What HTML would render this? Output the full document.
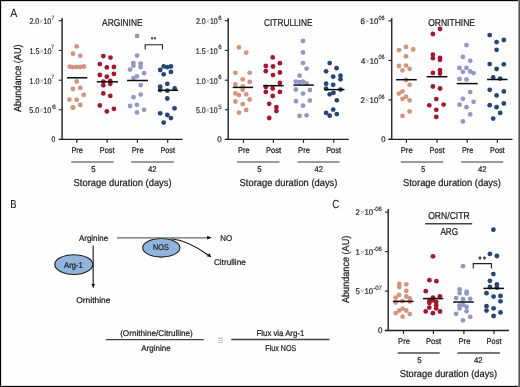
<!DOCTYPE html>
<html><head><meta charset="utf-8"><style>
html,body{margin:0;padding:0;background:#fff;}
body{width:520px;height:387px;overflow:hidden;}
svg{display:block;font-family:"Liberation Sans", sans-serif;will-change:transform;text-rendering:geometricPrecision;}
</style></head><body>
<svg width="520" height="387" viewBox="0 0 520 387">
<rect x="0" y="0" width="520" height="387" fill="#fefefe"/>
<line x1="62.10" y1="18.00" x2="62.10" y2="140.00" stroke="#2e2e2e" stroke-width="1.5"/>
<line x1="58.80" y1="139.40" x2="182.60" y2="139.40" stroke="#1e1e1e" stroke-width="1.4"/>
<line x1="58.80" y1="20.70" x2="62.10" y2="20.70" stroke="#222" stroke-width="1.1"/>
<line x1="58.80" y1="50.40" x2="62.10" y2="50.40" stroke="#222" stroke-width="1.1"/>
<line x1="58.80" y1="80.20" x2="62.10" y2="80.20" stroke="#222" stroke-width="1.1"/>
<line x1="58.80" y1="109.80" x2="62.10" y2="109.80" stroke="#222" stroke-width="1.1"/>
<line x1="58.80" y1="139.40" x2="62.10" y2="139.40" stroke="#222" stroke-width="1.1"/>
<line x1="76.80" y1="139.40" x2="76.80" y2="142.80" stroke="#1a1a1a" stroke-width="1.15"/>
<line x1="107.10" y1="139.40" x2="107.10" y2="142.80" stroke="#1a1a1a" stroke-width="1.15"/>
<line x1="137.40" y1="139.40" x2="137.40" y2="142.80" stroke="#1a1a1a" stroke-width="1.15"/>
<line x1="167.70" y1="139.40" x2="167.70" y2="142.80" stroke="#1a1a1a" stroke-width="1.15"/>
<text x="29.38" y="24.0" font-size="8.2" fill="#2a2a2a" stroke="#2a2a2a" stroke-width="0.22" textLength="21.90" lengthAdjust="spacingAndGlyphs">2.0<tspan fill="#a8a8a8" stroke="none">×</tspan>10</text>
<text x="51.40" y="19.7" font-size="6.2" fill="#2a2a2a" stroke="#2a2a2a" stroke-width="0.15" textLength="2.79" lengthAdjust="spacingAndGlyphs">7</text>
<text x="29.43" y="53.7" font-size="8.2" fill="#2a2a2a" stroke="#2a2a2a" stroke-width="0.22" textLength="22.12" lengthAdjust="spacingAndGlyphs">1.5<tspan fill="#a8a8a8" stroke="none">×</tspan>10</text>
<text x="51.16" y="49.4" font-size="6.2" fill="#2a2a2a" stroke="#2a2a2a" stroke-width="0.15" textLength="2.83" lengthAdjust="spacingAndGlyphs">7</text>
<text x="29.45" y="83.5" font-size="8.2" fill="#2a2a2a" stroke="#2a2a2a" stroke-width="0.22" textLength="22.08" lengthAdjust="spacingAndGlyphs">1.0<tspan fill="#a8a8a8" stroke="none">×</tspan>10</text>
<text x="51.16" y="79.2" font-size="6.2" fill="#2a2a2a" stroke="#2a2a2a" stroke-width="0.15" textLength="2.83" lengthAdjust="spacingAndGlyphs">7</text>
<text x="29.36" y="113.1" font-size="8.2" fill="#2a2a2a" stroke="#2a2a2a" stroke-width="0.22" textLength="21.83" lengthAdjust="spacingAndGlyphs">5.0<tspan fill="#a8a8a8" stroke="none">×</tspan>10</text>
<text x="52.00" y="108.8" font-size="6.2" fill="#2a2a2a" stroke="#2a2a2a" stroke-width="0.15" textLength="3.90" lengthAdjust="spacingAndGlyphs">6</text>
<text x="51.43" y="142.1" font-size="8.2" fill="#2a2a2a" stroke="#2a2a2a" stroke-width="0.22" textLength="3.69" lengthAdjust="spacingAndGlyphs">0</text>
<text x="102.07" y="25.8" font-size="10" fill="#1a1a1a" stroke="#1a1a1a" stroke-width="0.22" textLength="40.54" lengthAdjust="spacingAndGlyphs">ARGININE</text>
<circle cx="76.7" cy="46.4" r="2.4" fill="#d2937f"/>
<circle cx="73.0" cy="53.7" r="2.4" fill="#d2937f"/>
<circle cx="80.2" cy="55.8" r="2.4" fill="#d2937f"/>
<circle cx="69.8" cy="66.7" r="2.4" fill="#d2937f"/>
<circle cx="72.9" cy="67.2" r="2.4" fill="#d2937f"/>
<circle cx="76.6" cy="66.9" r="2.4" fill="#d2937f"/>
<circle cx="80.1" cy="67.0" r="2.4" fill="#d2937f"/>
<circle cx="83.8" cy="66.5" r="2.4" fill="#d2937f"/>
<circle cx="76.7" cy="81.5" r="2.4" fill="#d2937f"/>
<circle cx="80.2" cy="87.9" r="2.4" fill="#d2937f"/>
<circle cx="73.0" cy="89.0" r="2.4" fill="#d2937f"/>
<circle cx="83.7" cy="94.8" r="2.4" fill="#d2937f"/>
<circle cx="69.4" cy="99.6" r="2.4" fill="#d2937f"/>
<circle cx="76.7" cy="99.8" r="2.4" fill="#d2937f"/>
<circle cx="80.2" cy="105.0" r="2.4" fill="#d2937f"/>
<circle cx="73.0" cy="107.6" r="2.4" fill="#d2937f"/>
<circle cx="72.9" cy="107.5" r="2.4" fill="#d2937f"/>
<circle cx="103.3" cy="56.1" r="2.4" fill="#a2192f"/>
<circle cx="110.5" cy="57.6" r="2.4" fill="#a2192f"/>
<circle cx="99.8" cy="64.1" r="2.4" fill="#a2192f"/>
<circle cx="106.8" cy="67.4" r="2.4" fill="#a2192f"/>
<circle cx="113.9" cy="67.0" r="2.4" fill="#a2192f"/>
<circle cx="99.8" cy="75.0" r="2.4" fill="#a2192f"/>
<circle cx="106.8" cy="76.7" r="2.4" fill="#a2192f"/>
<circle cx="113.9" cy="73.9" r="2.4" fill="#a2192f"/>
<circle cx="103.3" cy="81.6" r="2.4" fill="#a2192f"/>
<circle cx="110.3" cy="80.9" r="2.4" fill="#a2192f"/>
<circle cx="103.3" cy="85.3" r="2.4" fill="#a2192f"/>
<circle cx="110.3" cy="83.8" r="2.4" fill="#a2192f"/>
<circle cx="103.3" cy="93.4" r="2.4" fill="#a2192f"/>
<circle cx="110.3" cy="95.9" r="2.4" fill="#a2192f"/>
<circle cx="99.8" cy="105.5" r="2.4" fill="#a2192f"/>
<circle cx="106.8" cy="111.4" r="2.4" fill="#a2192f"/>
<circle cx="113.9" cy="108.8" r="2.4" fill="#a2192f"/>
<circle cx="137.1" cy="35.9" r="2.4" fill="#9297c4"/>
<circle cx="137.1" cy="55.6" r="2.4" fill="#9297c4"/>
<circle cx="133.4" cy="63.1" r="2.4" fill="#9297c4"/>
<circle cx="133.4" cy="65.7" r="2.4" fill="#9297c4"/>
<circle cx="140.6" cy="63.6" r="2.4" fill="#9297c4"/>
<circle cx="140.6" cy="67.0" r="2.4" fill="#9297c4"/>
<circle cx="130.0" cy="69.6" r="2.4" fill="#9297c4"/>
<circle cx="144.1" cy="73.2" r="2.4" fill="#9297c4"/>
<circle cx="136.9" cy="76.3" r="2.4" fill="#9297c4"/>
<circle cx="133.5" cy="78.1" r="2.4" fill="#9297c4"/>
<circle cx="140.7" cy="85.1" r="2.4" fill="#9297c4"/>
<circle cx="140.7" cy="94.6" r="2.4" fill="#9297c4"/>
<circle cx="133.5" cy="97.2" r="2.4" fill="#9297c4"/>
<circle cx="130.1" cy="106.0" r="2.4" fill="#9297c4"/>
<circle cx="136.9" cy="104.8" r="2.4" fill="#9297c4"/>
<circle cx="144.1" cy="109.8" r="2.4" fill="#9297c4"/>
<circle cx="136.9" cy="112.4" r="2.4" fill="#9297c4"/>
<circle cx="163.7" cy="66.4" r="2.4" fill="#284575"/>
<circle cx="167.3" cy="67.2" r="2.4" fill="#284575"/>
<circle cx="170.9" cy="66.4" r="2.4" fill="#284575"/>
<circle cx="160.2" cy="70.0" r="2.4" fill="#284575"/>
<circle cx="163.7" cy="74.3" r="2.4" fill="#284575"/>
<circle cx="170.9" cy="71.9" r="2.4" fill="#284575"/>
<circle cx="167.3" cy="83.8" r="2.4" fill="#284575"/>
<circle cx="160.2" cy="86.7" r="2.4" fill="#284575"/>
<circle cx="160.2" cy="90.0" r="2.4" fill="#284575"/>
<circle cx="167.3" cy="90.7" r="2.4" fill="#284575"/>
<circle cx="174.7" cy="88.4" r="2.4" fill="#284575"/>
<circle cx="167.3" cy="98.5" r="2.4" fill="#284575"/>
<circle cx="174.5" cy="108.3" r="2.4" fill="#284575"/>
<circle cx="160.2" cy="113.3" r="2.4" fill="#284575"/>
<circle cx="167.3" cy="115.0" r="2.4" fill="#284575"/>
<circle cx="170.9" cy="118.1" r="2.4" fill="#284575"/>
<circle cx="163.7" cy="122.6" r="2.4" fill="#284575"/>
<line x1="67.00" y1="77.80" x2="87.30" y2="77.80" stroke="#0a0a0a" stroke-width="1.5"/>
<line x1="96.80" y1="81.80" x2="118.00" y2="81.80" stroke="#0a0a0a" stroke-width="1.5"/>
<line x1="127.10" y1="80.50" x2="148.00" y2="80.50" stroke="#0a0a0a" stroke-width="1.5"/>
<line x1="157.80" y1="90.30" x2="178.00" y2="90.30" stroke="#0a0a0a" stroke-width="1.5"/>
<text x="71.41" y="153.0" font-size="8.3" fill="#1a1a1a" stroke="#1a1a1a" stroke-width="0.22" textLength="11.55" lengthAdjust="spacingAndGlyphs">Pre</text>
<text x="99.85" y="153.0" font-size="8.3" fill="#1a1a1a" stroke="#1a1a1a" stroke-width="0.22" textLength="14.60" lengthAdjust="spacingAndGlyphs">Post</text>
<text x="131.67" y="153.0" font-size="8.3" fill="#1a1a1a" stroke="#1a1a1a" stroke-width="0.22" textLength="12.02" lengthAdjust="spacingAndGlyphs">Pre</text>
<text x="160.44" y="153.0" font-size="8.3" fill="#1a1a1a" stroke="#1a1a1a" stroke-width="0.22" textLength="14.47" lengthAdjust="spacingAndGlyphs">Post</text>
<line x1="71.20" y1="162.00" x2="113.80" y2="162.00" stroke="#7a7a7a" stroke-width="1.6"/>
<line x1="131.20" y1="162.00" x2="173.80" y2="162.00" stroke="#7a7a7a" stroke-width="1.6"/>
<text x="91.13" y="171.8" font-size="8.3" fill="#1a1a1a" stroke="#1a1a1a" stroke-width="0.22" textLength="4.36" lengthAdjust="spacingAndGlyphs">5</text>
<text x="147.98" y="171.8" font-size="8.3" fill="#1a1a1a" stroke="#1a1a1a" stroke-width="0.22" textLength="8.61" lengthAdjust="spacingAndGlyphs">42</text>
<text x="73.60" y="185.7" font-size="10" fill="#1a1a1a" stroke="#1a1a1a" stroke-width="0.22" textLength="98.02" lengthAdjust="spacingAndGlyphs">Storage duration (days)</text>
<path d="M145.2,49.5 V44.7 H162.5 V49.5" fill="none" stroke="#222" stroke-width="1.1"/>
<rect x="151.0" y="37.1" width="2.2" height="2.4" rx="0.9" fill="#555"/><rect x="153.9" y="37.1" width="2.2" height="2.4" rx="0.9" fill="#555"/>
<line x1="228.20" y1="18.00" x2="228.20" y2="140.00" stroke="#2e2e2e" stroke-width="1.5"/>
<line x1="224.90" y1="139.40" x2="348.80" y2="139.40" stroke="#1e1e1e" stroke-width="1.4"/>
<line x1="224.90" y1="20.70" x2="228.20" y2="20.70" stroke="#222" stroke-width="1.1"/>
<line x1="224.90" y1="50.40" x2="228.20" y2="50.40" stroke="#222" stroke-width="1.1"/>
<line x1="224.90" y1="80.20" x2="228.20" y2="80.20" stroke="#222" stroke-width="1.1"/>
<line x1="224.90" y1="109.80" x2="228.20" y2="109.80" stroke="#222" stroke-width="1.1"/>
<line x1="224.90" y1="139.40" x2="228.20" y2="139.40" stroke="#222" stroke-width="1.1"/>
<line x1="243.45" y1="139.40" x2="243.45" y2="142.80" stroke="#1a1a1a" stroke-width="1.15"/>
<line x1="273.40" y1="139.40" x2="273.40" y2="142.80" stroke="#1a1a1a" stroke-width="1.15"/>
<line x1="303.50" y1="139.40" x2="303.50" y2="142.80" stroke="#1a1a1a" stroke-width="1.15"/>
<line x1="333.80" y1="139.40" x2="333.80" y2="142.80" stroke="#1a1a1a" stroke-width="1.15"/>
<text x="195.90" y="24.0" font-size="8.2" fill="#2a2a2a" stroke="#2a2a2a" stroke-width="0.22" textLength="21.90" lengthAdjust="spacingAndGlyphs">2.0<tspan fill="#a8a8a8" stroke="none">×</tspan>10</text>
<text x="218.14" y="19.7" font-size="6.2" fill="#2a2a2a" stroke="#2a2a2a" stroke-width="0.15" textLength="3.39" lengthAdjust="spacingAndGlyphs">6</text>
<text x="195.86" y="53.7" font-size="8.2" fill="#2a2a2a" stroke="#2a2a2a" stroke-width="0.22" textLength="21.85" lengthAdjust="spacingAndGlyphs">1.5<tspan fill="#a8a8a8" stroke="none">×</tspan>10</text>
<text x="218.14" y="49.4" font-size="6.2" fill="#2a2a2a" stroke="#2a2a2a" stroke-width="0.15" textLength="3.39" lengthAdjust="spacingAndGlyphs">6</text>
<text x="195.89" y="83.5" font-size="8.2" fill="#2a2a2a" stroke="#2a2a2a" stroke-width="0.22" textLength="21.81" lengthAdjust="spacingAndGlyphs">1.0<tspan fill="#a8a8a8" stroke="none">×</tspan>10</text>
<text x="218.14" y="79.2" font-size="6.2" fill="#2a2a2a" stroke="#2a2a2a" stroke-width="0.15" textLength="3.39" lengthAdjust="spacingAndGlyphs">6</text>
<text x="196.01" y="113.1" font-size="8.2" fill="#2a2a2a" stroke="#2a2a2a" stroke-width="0.22" textLength="21.50" lengthAdjust="spacingAndGlyphs">5.0<tspan fill="#a8a8a8" stroke="none">×</tspan>10</text>
<text x="218.14" y="108.8" font-size="6.2" fill="#2a2a2a" stroke="#2a2a2a" stroke-width="0.15" textLength="3.43" lengthAdjust="spacingAndGlyphs">5</text>
<text x="217.30" y="142.1" font-size="8.2" fill="#2a2a2a" stroke="#2a2a2a" stroke-width="0.22" textLength="4.42" lengthAdjust="spacingAndGlyphs">0</text>
<text x="264.03" y="25.9" font-size="10" fill="#1a1a1a" stroke="#1a1a1a" stroke-width="0.22" textLength="48.46" lengthAdjust="spacingAndGlyphs">CITRULLINE</text>
<circle cx="239.0" cy="47.4" r="2.4" fill="#d2937f"/>
<circle cx="246.2" cy="52.6" r="2.4" fill="#d2937f"/>
<circle cx="235.4" cy="72.8" r="2.4" fill="#d2937f"/>
<circle cx="249.7" cy="72.8" r="2.4" fill="#d2937f"/>
<circle cx="242.7" cy="79.3" r="2.4" fill="#d2937f"/>
<circle cx="249.7" cy="81.9" r="2.4" fill="#d2937f"/>
<circle cx="235.4" cy="84.5" r="2.4" fill="#d2937f"/>
<circle cx="242.7" cy="86.5" r="2.4" fill="#d2937f"/>
<circle cx="242.7" cy="89.8" r="2.4" fill="#d2937f"/>
<circle cx="235.4" cy="93.3" r="2.4" fill="#d2937f"/>
<circle cx="239.0" cy="95.1" r="2.4" fill="#d2937f"/>
<circle cx="246.2" cy="94.3" r="2.4" fill="#d2937f"/>
<circle cx="249.7" cy="99.5" r="2.4" fill="#d2937f"/>
<circle cx="235.4" cy="101.5" r="2.4" fill="#d2937f"/>
<circle cx="242.7" cy="104.1" r="2.4" fill="#d2937f"/>
<circle cx="246.2" cy="110.0" r="2.4" fill="#d2937f"/>
<circle cx="239.0" cy="112.6" r="2.4" fill="#d2937f"/>
<circle cx="272.7" cy="57.4" r="2.4" fill="#a2192f"/>
<circle cx="279.9" cy="63.2" r="2.4" fill="#a2192f"/>
<circle cx="265.8" cy="66.0" r="2.4" fill="#a2192f"/>
<circle cx="273.0" cy="66.5" r="2.4" fill="#a2192f"/>
<circle cx="265.8" cy="71.2" r="2.4" fill="#a2192f"/>
<circle cx="279.9" cy="72.5" r="2.4" fill="#a2192f"/>
<circle cx="273.0" cy="75.1" r="2.4" fill="#a2192f"/>
<circle cx="279.9" cy="82.9" r="2.4" fill="#a2192f"/>
<circle cx="265.8" cy="86.9" r="2.4" fill="#a2192f"/>
<circle cx="272.7" cy="88.5" r="2.4" fill="#a2192f"/>
<circle cx="265.8" cy="91.9" r="2.4" fill="#a2192f"/>
<circle cx="279.9" cy="91.9" r="2.4" fill="#a2192f"/>
<circle cx="272.7" cy="96.0" r="2.4" fill="#a2192f"/>
<circle cx="269.2" cy="103.8" r="2.4" fill="#a2192f"/>
<circle cx="276.4" cy="107.1" r="2.4" fill="#a2192f"/>
<circle cx="276.4" cy="111.0" r="2.4" fill="#a2192f"/>
<circle cx="269.2" cy="118.0" r="2.4" fill="#a2192f"/>
<circle cx="303.0" cy="40.9" r="2.4" fill="#9297c4"/>
<circle cx="303.0" cy="52.5" r="2.4" fill="#9297c4"/>
<circle cx="303.0" cy="63.1" r="2.4" fill="#9297c4"/>
<circle cx="306.6" cy="68.6" r="2.4" fill="#9297c4"/>
<circle cx="299.6" cy="75.7" r="2.4" fill="#9297c4"/>
<circle cx="295.8" cy="81.7" r="2.4" fill="#9297c4"/>
<circle cx="299.6" cy="82.2" r="2.4" fill="#9297c4"/>
<circle cx="303.0" cy="81.7" r="2.4" fill="#9297c4"/>
<circle cx="306.6" cy="83.3" r="2.4" fill="#9297c4"/>
<circle cx="295.8" cy="89.5" r="2.4" fill="#9297c4"/>
<circle cx="309.9" cy="90.0" r="2.4" fill="#9297c4"/>
<circle cx="303.0" cy="93.6" r="2.4" fill="#9297c4"/>
<circle cx="296.0" cy="101.2" r="2.4" fill="#9297c4"/>
<circle cx="309.9" cy="100.6" r="2.4" fill="#9297c4"/>
<circle cx="303.0" cy="105.7" r="2.4" fill="#9297c4"/>
<circle cx="299.6" cy="115.8" r="2.4" fill="#9297c4"/>
<circle cx="306.6" cy="115.3" r="2.4" fill="#9297c4"/>
<circle cx="329.7" cy="63.1" r="2.4" fill="#284575"/>
<circle cx="336.6" cy="68.2" r="2.4" fill="#284575"/>
<circle cx="326.1" cy="71.3" r="2.4" fill="#284575"/>
<circle cx="333.2" cy="76.7" r="2.4" fill="#284575"/>
<circle cx="340.5" cy="75.7" r="2.4" fill="#284575"/>
<circle cx="340.5" cy="79.3" r="2.4" fill="#284575"/>
<circle cx="326.1" cy="83.7" r="2.4" fill="#284575"/>
<circle cx="333.2" cy="84.8" r="2.4" fill="#284575"/>
<circle cx="326.1" cy="88.6" r="2.4" fill="#284575"/>
<circle cx="340.5" cy="89.6" r="2.4" fill="#284575"/>
<circle cx="329.7" cy="94.3" r="2.4" fill="#284575"/>
<circle cx="333.5" cy="92.8" r="2.4" fill="#284575"/>
<circle cx="336.8" cy="100.3" r="2.4" fill="#284575"/>
<circle cx="333.2" cy="109.6" r="2.4" fill="#284575"/>
<circle cx="326.1" cy="112.9" r="2.4" fill="#284575"/>
<circle cx="329.7" cy="115.7" r="2.4" fill="#284575"/>
<circle cx="336.8" cy="114.1" r="2.4" fill="#284575"/>
<line x1="232.70" y1="87.40" x2="253.10" y2="87.40" stroke="#0a0a0a" stroke-width="1.5"/>
<line x1="263.20" y1="85.70" x2="283.60" y2="85.70" stroke="#0a0a0a" stroke-width="1.5"/>
<line x1="293.40" y1="85.10" x2="313.80" y2="85.10" stroke="#0a0a0a" stroke-width="1.5"/>
<line x1="324.20" y1="89.60" x2="344.40" y2="89.60" stroke="#0a0a0a" stroke-width="1.5"/>
<text x="238.09" y="153.0" font-size="8.3" fill="#1a1a1a" stroke="#1a1a1a" stroke-width="0.22" textLength="11.68" lengthAdjust="spacingAndGlyphs">Pre</text>
<text x="266.00" y="153.0" font-size="8.3" fill="#1a1a1a" stroke="#1a1a1a" stroke-width="0.22" textLength="15.20" lengthAdjust="spacingAndGlyphs">Post</text>
<text x="298.10" y="153.0" font-size="8.3" fill="#1a1a1a" stroke="#1a1a1a" stroke-width="0.22" textLength="11.90" lengthAdjust="spacingAndGlyphs">Pre</text>
<text x="326.20" y="153.0" font-size="8.3" fill="#1a1a1a" stroke="#1a1a1a" stroke-width="0.22" textLength="14.79" lengthAdjust="spacingAndGlyphs">Post</text>
<line x1="237.00" y1="162.00" x2="279.50" y2="162.00" stroke="#7a7a7a" stroke-width="1.6"/>
<line x1="297.50" y1="162.00" x2="339.50" y2="162.00" stroke="#7a7a7a" stroke-width="1.6"/>
<text x="257.13" y="171.8" font-size="8.3" fill="#1a1a1a" stroke="#1a1a1a" stroke-width="0.22" textLength="4.36" lengthAdjust="spacingAndGlyphs">5</text>
<text x="314.51" y="171.8" font-size="8.3" fill="#1a1a1a" stroke="#1a1a1a" stroke-width="0.22" textLength="8.35" lengthAdjust="spacingAndGlyphs">42</text>
<text x="239.60" y="185.7" font-size="10" fill="#1a1a1a" stroke="#1a1a1a" stroke-width="0.22" textLength="97.80" lengthAdjust="spacingAndGlyphs">Storage duration (days)</text>
<line x1="391.70" y1="18.00" x2="391.70" y2="140.00" stroke="#2e2e2e" stroke-width="1.5"/>
<line x1="388.40" y1="139.40" x2="512.50" y2="139.40" stroke="#1e1e1e" stroke-width="1.4"/>
<line x1="388.40" y1="20.80" x2="391.70" y2="20.80" stroke="#222" stroke-width="1.1"/>
<line x1="388.40" y1="60.40" x2="391.70" y2="60.40" stroke="#222" stroke-width="1.1"/>
<line x1="388.40" y1="99.90" x2="391.70" y2="99.90" stroke="#222" stroke-width="1.1"/>
<line x1="388.40" y1="139.40" x2="391.70" y2="139.40" stroke="#222" stroke-width="1.1"/>
<line x1="406.40" y1="139.40" x2="406.40" y2="142.80" stroke="#1a1a1a" stroke-width="1.15"/>
<line x1="437.00" y1="139.40" x2="437.00" y2="142.80" stroke="#1a1a1a" stroke-width="1.15"/>
<line x1="467.20" y1="139.40" x2="467.20" y2="142.80" stroke="#1a1a1a" stroke-width="1.15"/>
<line x1="497.30" y1="139.40" x2="497.30" y2="142.80" stroke="#1a1a1a" stroke-width="1.15"/>
<text x="360.60" y="24.1" font-size="8.2" fill="#2a2a2a" stroke="#2a2a2a" stroke-width="0.22" textLength="17.80" lengthAdjust="spacingAndGlyphs">6<tspan fill="#a8a8a8" stroke="none">×</tspan>10</text>
<text x="378.40" y="19.8" font-size="6.2" fill="#2a2a2a" stroke="#2a2a2a" stroke-width="0.15" textLength="6.12" lengthAdjust="spacingAndGlyphs">06</text>
<text x="361.04" y="63.7" font-size="8.2" fill="#2a2a2a" stroke="#2a2a2a" stroke-width="0.22" textLength="17.36" lengthAdjust="spacingAndGlyphs">4<tspan fill="#a8a8a8" stroke="none">×</tspan>10</text>
<text x="378.40" y="59.4" font-size="6.2" fill="#2a2a2a" stroke="#2a2a2a" stroke-width="0.15" textLength="6.12" lengthAdjust="spacingAndGlyphs">06</text>
<text x="360.60" y="103.2" font-size="8.2" fill="#2a2a2a" stroke="#2a2a2a" stroke-width="0.22" textLength="17.80" lengthAdjust="spacingAndGlyphs">2<tspan fill="#a8a8a8" stroke="none">×</tspan>10</text>
<text x="378.40" y="98.9" font-size="6.2" fill="#2a2a2a" stroke="#2a2a2a" stroke-width="0.15" textLength="6.12" lengthAdjust="spacingAndGlyphs">06</text>
<text x="381.22" y="142.1" font-size="8.2" fill="#2a2a2a" stroke="#2a2a2a" stroke-width="0.22" textLength="4.23" lengthAdjust="spacingAndGlyphs">0</text>
<text x="428.14" y="25.9" font-size="10" fill="#1a1a1a" stroke="#1a1a1a" stroke-width="0.22" textLength="46.86" lengthAdjust="spacingAndGlyphs">ORNITHINE</text>
<circle cx="406.0" cy="46.9" r="2.4" fill="#d2937f"/>
<circle cx="399.0" cy="50.1" r="2.4" fill="#d2937f"/>
<circle cx="413.2" cy="49.5" r="2.4" fill="#d2937f"/>
<circle cx="406.0" cy="56.3" r="2.4" fill="#d2937f"/>
<circle cx="399.0" cy="66.0" r="2.4" fill="#d2937f"/>
<circle cx="406.0" cy="65.6" r="2.4" fill="#d2937f"/>
<circle cx="402.5" cy="70.3" r="2.4" fill="#d2937f"/>
<circle cx="409.6" cy="68.9" r="2.4" fill="#d2937f"/>
<circle cx="406.0" cy="80.0" r="2.4" fill="#d2937f"/>
<circle cx="409.6" cy="84.8" r="2.4" fill="#d2937f"/>
<circle cx="402.5" cy="91.3" r="2.4" fill="#d2937f"/>
<circle cx="399.0" cy="93.6" r="2.4" fill="#d2937f"/>
<circle cx="406.0" cy="96.7" r="2.4" fill="#d2937f"/>
<circle cx="402.5" cy="98.8" r="2.4" fill="#d2937f"/>
<circle cx="409.6" cy="100.3" r="2.4" fill="#d2937f"/>
<circle cx="409.6" cy="111.4" r="2.4" fill="#d2937f"/>
<circle cx="402.5" cy="115.9" r="2.4" fill="#d2937f"/>
<circle cx="440.0" cy="29.0" r="2.4" fill="#a2192f"/>
<circle cx="432.9" cy="34.0" r="2.4" fill="#a2192f"/>
<circle cx="432.9" cy="54.6" r="2.4" fill="#a2192f"/>
<circle cx="432.9" cy="58.2" r="2.4" fill="#a2192f"/>
<circle cx="440.0" cy="58.0" r="2.4" fill="#a2192f"/>
<circle cx="440.0" cy="59.8" r="2.4" fill="#a2192f"/>
<circle cx="432.9" cy="72.9" r="2.4" fill="#a2192f"/>
<circle cx="440.0" cy="70.2" r="2.4" fill="#a2192f"/>
<circle cx="440.0" cy="73.6" r="2.4" fill="#a2192f"/>
<circle cx="432.9" cy="86.5" r="2.4" fill="#a2192f"/>
<circle cx="440.0" cy="88.5" r="2.4" fill="#a2192f"/>
<circle cx="436.3" cy="99.1" r="2.4" fill="#a2192f"/>
<circle cx="429.3" cy="105.3" r="2.4" fill="#a2192f"/>
<circle cx="443.6" cy="104.6" r="2.4" fill="#a2192f"/>
<circle cx="436.3" cy="109.8" r="2.4" fill="#a2192f"/>
<circle cx="436.3" cy="116.9" r="2.4" fill="#a2192f"/>
<circle cx="466.5" cy="45.1" r="2.4" fill="#9297c4"/>
<circle cx="462.9" cy="56.9" r="2.4" fill="#9297c4"/>
<circle cx="470.2" cy="60.8" r="2.4" fill="#9297c4"/>
<circle cx="459.5" cy="67.9" r="2.4" fill="#9297c4"/>
<circle cx="466.5" cy="67.9" r="2.4" fill="#9297c4"/>
<circle cx="462.9" cy="71.8" r="2.4" fill="#9297c4"/>
<circle cx="470.2" cy="71.5" r="2.4" fill="#9297c4"/>
<circle cx="473.6" cy="73.1" r="2.4" fill="#9297c4"/>
<circle cx="459.5" cy="79.0" r="2.4" fill="#9297c4"/>
<circle cx="466.5" cy="79.5" r="2.4" fill="#9297c4"/>
<circle cx="470.2" cy="92.1" r="2.4" fill="#9297c4"/>
<circle cx="462.9" cy="98.8" r="2.4" fill="#9297c4"/>
<circle cx="473.6" cy="101.8" r="2.4" fill="#9297c4"/>
<circle cx="459.5" cy="104.7" r="2.4" fill="#9297c4"/>
<circle cx="466.5" cy="107.2" r="2.4" fill="#9297c4"/>
<circle cx="470.2" cy="114.4" r="2.4" fill="#9297c4"/>
<circle cx="462.9" cy="121.4" r="2.4" fill="#9297c4"/>
<circle cx="489.7" cy="35.1" r="2.4" fill="#284575"/>
<circle cx="496.6" cy="42.1" r="2.4" fill="#284575"/>
<circle cx="503.8" cy="40.0" r="2.4" fill="#284575"/>
<circle cx="496.6" cy="49.8" r="2.4" fill="#284575"/>
<circle cx="489.7" cy="64.1" r="2.4" fill="#284575"/>
<circle cx="503.8" cy="64.3" r="2.4" fill="#284575"/>
<circle cx="496.6" cy="69.0" r="2.4" fill="#284575"/>
<circle cx="493.2" cy="77.5" r="2.4" fill="#284575"/>
<circle cx="500.2" cy="78.6" r="2.4" fill="#284575"/>
<circle cx="489.7" cy="89.8" r="2.4" fill="#284575"/>
<circle cx="503.8" cy="91.4" r="2.4" fill="#284575"/>
<circle cx="496.6" cy="95.4" r="2.4" fill="#284575"/>
<circle cx="489.7" cy="105.2" r="2.4" fill="#284575"/>
<circle cx="503.8" cy="103.4" r="2.4" fill="#284575"/>
<circle cx="496.6" cy="107.2" r="2.4" fill="#284575"/>
<circle cx="500.2" cy="112.9" r="2.4" fill="#284575"/>
<circle cx="493.2" cy="118.6" r="2.4" fill="#284575"/>
<line x1="396.10" y1="79.70" x2="416.80" y2="79.70" stroke="#0a0a0a" stroke-width="1.5"/>
<line x1="426.70" y1="76.70" x2="447.40" y2="76.70" stroke="#0a0a0a" stroke-width="1.5"/>
<line x1="456.70" y1="83.60" x2="477.70" y2="83.60" stroke="#0a0a0a" stroke-width="1.5"/>
<line x1="487.10" y1="79.50" x2="507.50" y2="79.50" stroke="#0a0a0a" stroke-width="1.5"/>
<text x="400.67" y="153.0" font-size="8.3" fill="#1a1a1a" stroke="#1a1a1a" stroke-width="0.22" textLength="12.02" lengthAdjust="spacingAndGlyphs">Pre</text>
<text x="429.60" y="153.0" font-size="8.3" fill="#1a1a1a" stroke="#1a1a1a" stroke-width="0.22" textLength="14.85" lengthAdjust="spacingAndGlyphs">Post</text>
<text x="461.88" y="153.0" font-size="8.3" fill="#1a1a1a" stroke="#1a1a1a" stroke-width="0.22" textLength="11.37" lengthAdjust="spacingAndGlyphs">Pre</text>
<text x="489.99" y="153.0" font-size="8.3" fill="#1a1a1a" stroke="#1a1a1a" stroke-width="0.22" textLength="14.68" lengthAdjust="spacingAndGlyphs">Post</text>
<line x1="400.80" y1="162.00" x2="443.20" y2="162.00" stroke="#7a7a7a" stroke-width="1.6"/>
<line x1="461.20" y1="162.00" x2="503.20" y2="162.00" stroke="#7a7a7a" stroke-width="1.6"/>
<text x="421.23" y="171.8" font-size="8.3" fill="#1a1a1a" stroke="#1a1a1a" stroke-width="0.22" textLength="3.96" lengthAdjust="spacingAndGlyphs">5</text>
<text x="477.98" y="171.8" font-size="8.3" fill="#1a1a1a" stroke="#1a1a1a" stroke-width="0.22" textLength="8.61" lengthAdjust="spacingAndGlyphs">42</text>
<text x="402.97" y="185.7" font-size="10" fill="#1a1a1a" stroke="#1a1a1a" stroke-width="0.22" textLength="97.88" lengthAdjust="spacingAndGlyphs">Storage duration (days)</text>
<text x="10.29" y="16.6" font-size="11.8" fill="#1a1a1a" stroke="#1a1a1a" stroke-width="0.05" textLength="7.09" lengthAdjust="spacingAndGlyphs">A</text>
<text x="10.15" y="207.9" font-size="11.5" fill="#1a1a1a" stroke="#1a1a1a" stroke-width="0.05" textLength="6.35" lengthAdjust="spacingAndGlyphs">B</text>
<text x="332.37" y="208.2" font-size="11.8" fill="#1a1a1a" stroke="#1a1a1a" stroke-width="0.05" textLength="6.98" lengthAdjust="spacingAndGlyphs">C</text>
<text transform="translate(21.4,112.00) rotate(-90)" font-size="10" fill="#1a1a1a" stroke="#1a1a1a" stroke-width="0.22" textLength="67.62" lengthAdjust="spacingAndGlyphs">Abundance (AU)</text>
<text transform="translate(348.9,303.00) rotate(-90)" font-size="10" fill="#1a1a1a" stroke="#1a1a1a" stroke-width="0.22" textLength="67.24" lengthAdjust="spacingAndGlyphs">Abundance (AU)</text>
<ellipse cx="73.8" cy="264.6" rx="19.0" ry="9.9" fill="#91b4dc" stroke="#1a1a1a" stroke-width="1.1"/>
<ellipse cx="161.3" cy="247.8" rx="18.6" ry="9.3" fill="#91b4dc" stroke="#1a1a1a" stroke-width="1.1"/>
<line x1="93.20" y1="245.60" x2="93.20" y2="285.00" stroke="#2a2a2a" stroke-width="1.2"/>
<path d="M91.4,283.9 L95.0,283.9 L93.2,288.2 Z" fill="#111"/>
<line x1="116.90" y1="237.80" x2="208.00" y2="237.80" stroke="#6a6a6a" stroke-width="1.3"/>
<path d="M207.0,235.8 L207.0,239.6 L211.8,237.7 Z" fill="#111"/>
<path d="M171.5,238.7 C185,240.3 198,247.5 208.4,255.2" fill="none" stroke="#111" stroke-width="1.1"/>
<path d="M206.6,256.3 L209.7,253.2 L211.3,257.3 Z" fill="#111"/>
<text x="78.96" y="240.6" font-size="8.3" fill="#1a1a1a" stroke="#1a1a1a" stroke-width="0.22" textLength="29.14" lengthAdjust="spacingAndGlyphs">Arginine</text>
<text x="64.10" y="268.3" font-size="8.3" fill="#1a1a1a" stroke="#1a1a1a" stroke-width="0.22" textLength="18.77" lengthAdjust="spacingAndGlyphs">Arg-1</text>
<text x="152.99" y="250.4" font-size="8.3" fill="#1a1a1a" stroke="#1a1a1a" stroke-width="0.22" textLength="15.76" lengthAdjust="spacingAndGlyphs">NOS</text>
<text x="220.32" y="240.5" font-size="8.3" fill="#1a1a1a" stroke="#1a1a1a" stroke-width="0.22" textLength="11.88" lengthAdjust="spacingAndGlyphs">NO</text>
<text x="213.89" y="264.8" font-size="8.3" fill="#1a1a1a" stroke="#1a1a1a" stroke-width="0.22" textLength="31.91" lengthAdjust="spacingAndGlyphs">Citrulline</text>
<text x="76.22" y="303.1" font-size="8.3" fill="#1a1a1a" stroke="#1a1a1a" stroke-width="0.22" textLength="34.19" lengthAdjust="spacingAndGlyphs">Ornithine</text>
<line x1="105.80" y1="339.60" x2="203.80" y2="339.60" stroke="#444" stroke-width="1.4"/>
<line x1="231.20" y1="339.50" x2="329.50" y2="339.50" stroke="#444" stroke-width="1.4"/>
<text x="120.13" y="335.6" font-size="8.3" fill="#1a1a1a" stroke="#1a1a1a" stroke-width="0.22" textLength="72.64" lengthAdjust="spacingAndGlyphs">(Ornithine/Citrulline)</text>
<text x="141.30" y="350.5" font-size="8.3" fill="#1a1a1a" stroke="#1a1a1a" stroke-width="0.22" textLength="29.31" lengthAdjust="spacingAndGlyphs">Arginine</text>
<text x="256.60" y="335.5" font-size="8.3" fill="#1a1a1a" stroke="#1a1a1a" stroke-width="0.22" textLength="47.63" lengthAdjust="spacingAndGlyphs">Flux via Arg-1</text>
<text x="265.33" y="350.5" font-size="8.3" fill="#1a1a1a" stroke="#1a1a1a" stroke-width="0.22" textLength="30.85" lengthAdjust="spacingAndGlyphs">Flux NOS</text>
<path d="M218.4,338.6 Q219.6,337.6 220.6,338.2 Q221.6,338.8 222.6,338.0" fill="none" stroke="#8a8a8a" stroke-width="0.9"/>
<line x1="218.20" y1="340.50" x2="222.80" y2="340.50" stroke="#b8b8b8" stroke-width="0.8"/>
<line x1="218.20" y1="342.50" x2="222.80" y2="342.50" stroke="#b8b8b8" stroke-width="0.8"/>
<line x1="388.20" y1="209.00" x2="388.20" y2="331.10" stroke="#2e2e2e" stroke-width="1.5"/>
<line x1="384.90" y1="330.50" x2="509.00" y2="330.50" stroke="#1e1e1e" stroke-width="1.4"/>
<line x1="384.90" y1="212.10" x2="388.20" y2="212.10" stroke="#222" stroke-width="1.1"/>
<line x1="384.90" y1="251.60" x2="388.20" y2="251.60" stroke="#222" stroke-width="1.1"/>
<line x1="384.90" y1="291.10" x2="388.20" y2="291.10" stroke="#222" stroke-width="1.1"/>
<line x1="384.90" y1="330.50" x2="388.20" y2="330.50" stroke="#222" stroke-width="1.1"/>
<line x1="403.50" y1="330.50" x2="403.50" y2="333.90" stroke="#1a1a1a" stroke-width="1.15"/>
<line x1="433.40" y1="330.50" x2="433.40" y2="333.90" stroke="#1a1a1a" stroke-width="1.15"/>
<line x1="463.90" y1="330.50" x2="463.90" y2="333.90" stroke="#1a1a1a" stroke-width="1.15"/>
<line x1="494.00" y1="330.50" x2="494.00" y2="333.90" stroke="#1a1a1a" stroke-width="1.15"/>
<text x="355.60" y="215.4" font-size="8.2" fill="#2a2a2a" stroke="#2a2a2a" stroke-width="0.22" textLength="17.57" lengthAdjust="spacingAndGlyphs">2<tspan fill="#a8a8a8" stroke="none">×</tspan>10</text>
<text x="373.13" y="211.1" font-size="6.2" fill="#2a2a2a" stroke="#2a2a2a" stroke-width="0.15" textLength="8.69" lengthAdjust="spacingAndGlyphs">-06</text>
<text x="355.60" y="254.9" font-size="8.2" fill="#2a2a2a" stroke="#2a2a2a" stroke-width="0.22" textLength="17.54" lengthAdjust="spacingAndGlyphs">1<tspan fill="#a8a8a8" stroke="none">×</tspan>10</text>
<text x="373.13" y="250.6" font-size="6.2" fill="#2a2a2a" stroke="#2a2a2a" stroke-width="0.15" textLength="8.69" lengthAdjust="spacingAndGlyphs">-06</text>
<text x="355.60" y="294.4" font-size="8.2" fill="#2a2a2a" stroke="#2a2a2a" stroke-width="0.22" textLength="17.54" lengthAdjust="spacingAndGlyphs">5<tspan fill="#a8a8a8" stroke="none">×</tspan>10</text>
<text x="373.20" y="290.1" font-size="6.2" fill="#2a2a2a" stroke="#2a2a2a" stroke-width="0.15" textLength="8.66" lengthAdjust="spacingAndGlyphs">-07</text>
<text x="377.90" y="332.9" font-size="8.2" fill="#2a2a2a" stroke="#2a2a2a" stroke-width="0.22" textLength="4.46" lengthAdjust="spacingAndGlyphs">0</text>
<circle cx="399.3" cy="283.9" r="2.4" fill="#d2937f"/>
<circle cx="406.3" cy="284.3" r="2.4" fill="#d2937f"/>
<circle cx="399.3" cy="287.0" r="2.4" fill="#d2937f"/>
<circle cx="406.3" cy="290.9" r="2.4" fill="#d2937f"/>
<circle cx="399.1" cy="295.0" r="2.4" fill="#d2937f"/>
<circle cx="395.7" cy="297.6" r="2.4" fill="#d2937f"/>
<circle cx="406.3" cy="296.5" r="2.4" fill="#d2937f"/>
<circle cx="409.8" cy="298.4" r="2.4" fill="#d2937f"/>
<circle cx="395.7" cy="302.5" r="2.4" fill="#d2937f"/>
<circle cx="402.6" cy="301.2" r="2.4" fill="#d2937f"/>
<circle cx="409.8" cy="301.7" r="2.4" fill="#d2937f"/>
<circle cx="402.6" cy="308.7" r="2.4" fill="#d2937f"/>
<circle cx="399.3" cy="310.5" r="2.4" fill="#d2937f"/>
<circle cx="406.3" cy="310.5" r="2.4" fill="#d2937f"/>
<circle cx="395.7" cy="313.1" r="2.4" fill="#d2937f"/>
<circle cx="409.8" cy="314.1" r="2.4" fill="#d2937f"/>
<circle cx="402.6" cy="316.7" r="2.4" fill="#d2937f"/>
<circle cx="433.0" cy="256.3" r="2.4" fill="#a2192f"/>
<circle cx="429.4" cy="280.2" r="2.4" fill="#a2192f"/>
<circle cx="436.4" cy="281.2" r="2.4" fill="#a2192f"/>
<circle cx="425.8" cy="291.2" r="2.4" fill="#a2192f"/>
<circle cx="433.0" cy="297.6" r="2.4" fill="#a2192f"/>
<circle cx="439.9" cy="296.3" r="2.4" fill="#a2192f"/>
<circle cx="429.4" cy="301.1" r="2.4" fill="#a2192f"/>
<circle cx="436.2" cy="302.0" r="2.4" fill="#a2192f"/>
<circle cx="432.9" cy="300.4" r="2.4" fill="#a2192f"/>
<circle cx="429.4" cy="303.1" r="2.4" fill="#a2192f"/>
<circle cx="436.2" cy="305.2" r="2.4" fill="#a2192f"/>
<circle cx="429.3" cy="307.6" r="2.4" fill="#a2192f"/>
<circle cx="436.2" cy="308.4" r="2.4" fill="#a2192f"/>
<circle cx="425.7" cy="311.4" r="2.4" fill="#a2192f"/>
<circle cx="440.0" cy="311.5" r="2.4" fill="#a2192f"/>
<circle cx="432.9" cy="313.2" r="2.4" fill="#a2192f"/>
<circle cx="463.0" cy="266.2" r="2.4" fill="#9297c4"/>
<circle cx="459.6" cy="289.3" r="2.4" fill="#9297c4"/>
<circle cx="459.6" cy="293.1" r="2.4" fill="#9297c4"/>
<circle cx="466.6" cy="291.7" r="2.4" fill="#9297c4"/>
<circle cx="466.6" cy="293.4" r="2.4" fill="#9297c4"/>
<circle cx="456.1" cy="298.1" r="2.4" fill="#9297c4"/>
<circle cx="463.0" cy="299.2" r="2.4" fill="#9297c4"/>
<circle cx="470.2" cy="298.8" r="2.4" fill="#9297c4"/>
<circle cx="459.6" cy="305.3" r="2.4" fill="#9297c4"/>
<circle cx="463.0" cy="304.8" r="2.4" fill="#9297c4"/>
<circle cx="466.6" cy="306.9" r="2.4" fill="#9297c4"/>
<circle cx="459.6" cy="308.4" r="2.4" fill="#9297c4"/>
<circle cx="466.6" cy="311.3" r="2.4" fill="#9297c4"/>
<circle cx="456.1" cy="313.8" r="2.4" fill="#9297c4"/>
<circle cx="470.2" cy="316.9" r="2.4" fill="#9297c4"/>
<circle cx="463.0" cy="320.3" r="2.4" fill="#9297c4"/>
<circle cx="493.4" cy="229.7" r="2.4" fill="#284575"/>
<circle cx="489.9" cy="253.9" r="2.4" fill="#284575"/>
<circle cx="496.9" cy="256.0" r="2.4" fill="#284575"/>
<circle cx="493.4" cy="274.1" r="2.4" fill="#284575"/>
<circle cx="489.9" cy="280.8" r="2.4" fill="#284575"/>
<circle cx="489.9" cy="287.0" r="2.4" fill="#284575"/>
<circle cx="496.9" cy="284.5" r="2.4" fill="#284575"/>
<circle cx="496.9" cy="287.5" r="2.4" fill="#284575"/>
<circle cx="486.5" cy="293.2" r="2.4" fill="#284575"/>
<circle cx="493.6" cy="296.6" r="2.4" fill="#284575"/>
<circle cx="500.5" cy="295.9" r="2.4" fill="#284575"/>
<circle cx="500.5" cy="301.3" r="2.4" fill="#284575"/>
<circle cx="486.5" cy="306.2" r="2.4" fill="#284575"/>
<circle cx="486.5" cy="310.6" r="2.4" fill="#284575"/>
<circle cx="493.6" cy="308.3" r="2.4" fill="#284575"/>
<circle cx="500.5" cy="312.4" r="2.4" fill="#284575"/>
<circle cx="493.6" cy="316.0" r="2.4" fill="#284575"/>
<line x1="392.90" y1="301.40" x2="413.60" y2="301.40" stroke="#0a0a0a" stroke-width="1.5"/>
<line x1="423.00" y1="298.60" x2="443.30" y2="298.60" stroke="#0a0a0a" stroke-width="1.5"/>
<line x1="453.20" y1="302.00" x2="473.80" y2="302.00" stroke="#0a0a0a" stroke-width="1.5"/>
<line x1="483.40" y1="288.40" x2="504.10" y2="288.40" stroke="#0a0a0a" stroke-width="1.5"/>
<text x="398.10" y="343.9" font-size="8.3" fill="#1a1a1a" stroke="#1a1a1a" stroke-width="0.22" textLength="11.90" lengthAdjust="spacingAndGlyphs">Pre</text>
<text x="426.00" y="343.9" font-size="8.3" fill="#1a1a1a" stroke="#1a1a1a" stroke-width="0.22" textLength="15.20" lengthAdjust="spacingAndGlyphs">Post</text>
<text x="458.50" y="343.9" font-size="8.3" fill="#1a1a1a" stroke="#1a1a1a" stroke-width="0.22" textLength="11.90" lengthAdjust="spacingAndGlyphs">Pre</text>
<text x="486.60" y="343.9" font-size="8.3" fill="#1a1a1a" stroke="#1a1a1a" stroke-width="0.22" textLength="14.85" lengthAdjust="spacingAndGlyphs">Post</text>
<line x1="397.70" y1="353.00" x2="439.70" y2="353.00" stroke="#4a4a4a" stroke-width="1.6"/>
<line x1="457.40" y1="353.00" x2="499.90" y2="353.00" stroke="#4a4a4a" stroke-width="1.6"/>
<text x="417.13" y="363.4" font-size="8.3" fill="#1a1a1a" stroke="#1a1a1a" stroke-width="0.22" textLength="4.36" lengthAdjust="spacingAndGlyphs">5</text>
<text x="473.98" y="363.4" font-size="8.3" fill="#1a1a1a" stroke="#1a1a1a" stroke-width="0.22" textLength="8.61" lengthAdjust="spacingAndGlyphs">42</text>
<text x="399.79" y="377.4" font-size="10" fill="#1a1a1a" stroke="#1a1a1a" stroke-width="0.22" textLength="97.36" lengthAdjust="spacingAndGlyphs">Storage duration (days)</text>
<path d="M473.3,268.4 V263.6 H491.4 V268.4" fill="none" stroke="#222" stroke-width="1.1"/>
<rect x="478.6" y="256.5" width="2.8" height="3.0" rx="1.1" fill="#4a4a4a"/><rect x="483.1" y="256.5" width="2.8" height="3.0" rx="1.1" fill="#4a4a4a"/>
<text x="428.14" y="219.1" font-size="10" fill="#1a1a1a" stroke="#1a1a1a" stroke-width="0.22" textLength="41.59" lengthAdjust="spacingAndGlyphs">ORN/CITR</text>
<line x1="425.10" y1="223.80" x2="472.20" y2="223.80" stroke="#444" stroke-width="1.5"/>
<text x="440.38" y="234.6" font-size="10" fill="#1a1a1a" stroke="#1a1a1a" stroke-width="0.22" textLength="17.68" lengthAdjust="spacingAndGlyphs">ARG</text>
<rect x="1" y="1" width="517" height="1" fill="#d8d8d8"/>
<rect x="1" y="1" width="1" height="385" fill="#d8d8d8"/>
<rect x="0" y="385" width="518" height="1" fill="#e0e0e0"/>
<rect x="0" y="0" width="520" height="1" fill="#000"/>
<rect x="0" y="0" width="1" height="387" fill="#000"/>
<rect x="0" y="386" width="519" height="1" fill="#000"/>
<rect x="518" y="0" width="1" height="387" fill="#9a9a9a"/>
<rect x="519" y="0" width="1" height="387" fill="#555"/>
</svg>
</body></html>
